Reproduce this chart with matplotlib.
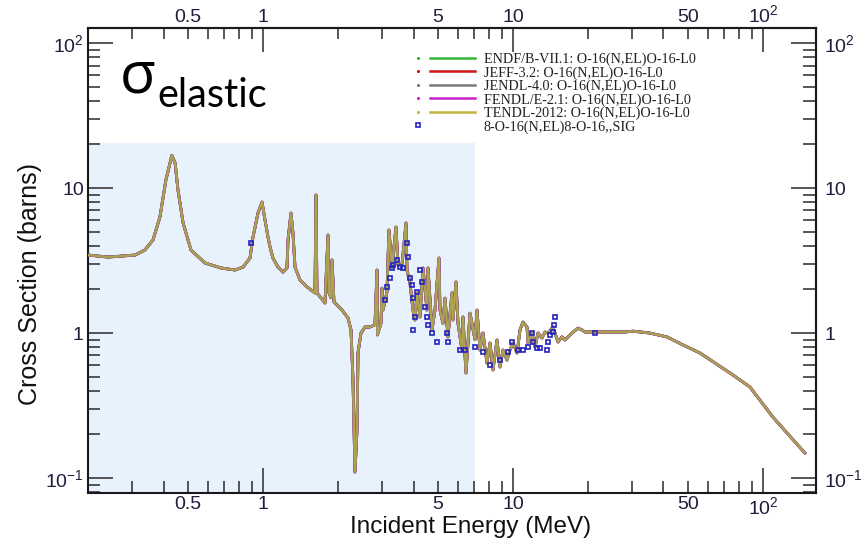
import matplotlib
matplotlib.use("Agg")
import matplotlib.pyplot as plt
from matplotlib.lines import Line2D
from matplotlib.legend_handler import HandlerBase
from matplotlib.ticker import FixedLocator, FixedFormatter, LogLocator, NullFormatter

plt.rcParams["font.family"] = ["Liberation Sans", "DejaVu Sans"]
plt.rcParams["mathtext.fontset"] = "custom"
plt.rcParams["mathtext.rm"] = "Liberation Sans"

# O-16 elastic cross section (MeV, barns), evaluated libraries
energy_mev = [
    0.200, 0.240, 0.308, 0.337, 0.363, 0.387, 0.409, 0.432, 0.445, 0.457,
    0.479, 0.515, 0.586, 0.679, 0.773, 0.832, 0.887, 0.912, 0.955, 0.991,
    1.019, 1.047, 1.067, 1.096, 1.148, 1.202, 1.247, 1.259, 1.294, 1.318,
    1.343, 1.406, 1.500, 1.614, 1.629, 1.644, 1.770, 1.820, 1.837, 1.870,
    1.888, 1.923, 2.070, 2.188, 2.249, 2.291, 2.333, 2.377, 2.399, 2.466,
    2.512, 2.559, 2.679, 2.805, 2.858, 2.870, 2.965, 2.992, 3.020, 3.133,
    3.190, 3.281, 3.404, 3.467, 3.597, 3.733, 3.767, 3.873, 3.981, 4.055,
    4.130, 4.246, 4.365, 4.529, 4.571, 4.742, 4.875, 5.058, 5.105, 5.248,
    5.346, 5.495, 5.700, 5.754, 5.916, 6.026, 6.252, 6.310, 6.486, 6.730,
    7.047, 7.178, 7.380, 7.586, 7.870, 8.091, 8.318, 8.630, 8.872, 9.120,
    9.460, 9.727, 10.00, 10.38, 10.67, 10.96, 11.38, 11.48, 11.91, 12.25,
    12.59, 13.06, 13.43, 13.80, 14.45, 15.14, 15.70, 16.14, 17.22, 18.20,
    18.88, 19.41, 20.70, 21.88, 23.99, 28.05, 30.20, 35.20, 41.30, 47.90,
    55.98, 75.90, 88.70, 109.6, 147.0,
]
sigma_barns = [
    3.45, 3.34, 3.45, 3.74, 4.38, 6.31, 11.4, 16.8, 14.9, 9.69,
    5.74, 3.74, 3.04, 2.81, 2.72, 2.85, 3.29, 4.59, 6.72, 8.00,
    6.00, 4.59, 3.92, 3.29, 2.85, 2.63, 2.81, 4.38, 6.72, 4.89,
    2.85, 2.32, 2.08, 1.89, 8.95, 1.89, 1.61, 4.74, 1.89, 1.75,
    3.19, 1.64, 1.44, 1.27, 1.05, 0.474, 0.110, 0.214, 0.728, 1.00,
    1.05, 1.10, 1.10, 1.14, 2.72, 0.97, 1.17, 2.04, 1.44, 1.92,
    5.13, 2.85, 5.38, 2.94, 2.94, 5.74, 2.72, 2.21, 1.44, 1.23,
    1.89, 1.29, 2.81, 1.44, 2.81, 1.05, 1.44, 3.29, 1.44, 1.17,
    1.74, 0.94, 1.89, 1.23, 2.25, 1.17, 0.763, 1.29, 0.53, 1.37,
    0.90, 1.44, 0.763, 1.00, 0.621, 0.853, 0.556, 0.895, 0.583, 0.763,
    0.651, 0.763, 0.853, 0.728, 1.05, 1.19, 1.10, 0.853, 1.00, 0.80,
    1.00, 0.924, 1.016, 1.00, 1.10, 0.867, 0.94, 0.895, 1.00, 1.08,
    1.05, 1.016, 1.016, 1.016, 1.016, 1.016, 1.03, 1.00, 0.94, 0.827,
    0.728, 0.513, 0.424, 0.263, 0.149,
]

# EXFOR measurements
exp_energy = [
    0.895, 3.076, 3.133, 3.221, 3.281, 3.311, 3.436, 3.532, 3.631, 3.767,
    3.802, 3.873, 3.945, 3.981, 3.981, 4.055, 4.130, 4.246, 4.325, 4.446,
    4.529, 4.571, 4.742, 4.966, 5.445, 5.495, 6.138, 6.427, 7.047, 7.586,
    8.091, 8.872, 9.550, 9.910, 10.47, 10.96, 11.48, 11.91, 12.02, 12.47,
    12.82, 13.68, 13.80, 14.06, 14.45, 14.59, 14.72, 21.28,
]
exp_sigma = [
    4.17, 1.69, 2.08, 2.39, 2.81, 2.94, 3.19, 2.85, 2.81, 4.17,
    3.34, 2.39, 2.14, 1.74, 1.05, 1.29, 1.92, 2.72, 2.25, 1.51,
    1.29, 1.14, 1.00, 0.867, 1.00, 0.867, 0.763, 0.763, 0.80, 0.74,
    0.601, 0.651, 0.74, 0.867, 0.763, 0.763, 0.80, 1.00, 0.867, 0.788,
    0.788, 0.763, 0.867, 0.969, 1.016, 1.135, 1.29, 1.00,
]

# (label, colour, draw order, line width, alpha)
libraries = [
    ("ENDF/B-VII.1: O-16(N,EL)O-16-L0", "#33b533", 2, 2.0, 1.0),
    ("JEFF-3.2: O-16(N,EL)O-16-L0", "#cc1414", 3, 2.0, 1.0),
    ("JENDL-4.0: O-16(N,EL)O-16-L0", "#7a7a7a", 5, 2.0, 1.0),
    ("FENDL/E-2.1: O-16(N,EL)O-16-L0", "#cc22cc", 4, 2.0, 1.0),
    ("TENDL-2012: O-16(N,EL)O-16-L0", "#c4b43c", 6, 1.5, 0.7),
]
exp_label = "8-O-16(N,EL)8-O-16,,SIG"

x_range = (0.1995, 163.0)
y_range = (0.0788, 127.0)
shade_emax = 7.05
shade_ymax = 20.4

x_major = [1, 10, 100]
x_major_labels = ["1", "10", r"$\mathregular{10^{2}}$"]
x_labelled_minor = [0.5, 5, 50]
y_major = [0.1, 1, 10, 100]
y_major_labels = [r"$\mathregular{10^{-1}}$", "1", "10", r"$\mathregular{10^{2}}$"]

tick_color = "#2a2a2a"
label_color = "#1e1e3c"


class DotLineHandler(HandlerBase):
    """Legend key: a small dot at the left, then the line segment."""

    def create_artists(self, legend, orig_handle, xdescent, ydescent,
                       width, height, fontsize, trans):
        y = height / 2.0 - ydescent
        x0 = -xdescent
        arts = []
        if orig_handle.get_linestyle() in ("None", "none", ""):
            arts.append(Line2D([x0 + 0.02 * width], [y], linestyle="none",
                               marker=orig_handle.get_marker(),
                               markersize=orig_handle.get_markersize(),
                               markeredgewidth=orig_handle.get_markeredgewidth(),
                               markeredgecolor=orig_handle.get_markeredgecolor(),
                               markerfacecolor="none"))
        else:
            c = orig_handle.get_color()
            arts.append(Line2D([x0 + 0.02 * width], [y], linestyle="none",
                               marker=".", markersize=2.5, color=c))
            arts.append(Line2D([x0 + 0.22 * width, x0 + width], [y, y],
                               color=c, lw=1.8))
        for a in arts:
            a.set_transform(trans)
        return arts


fig = plt.figure(figsize=(8.64, 5.4), dpi=100)
ax = fig.add_axes([88 / 864, 47 / 540, 728 / 864, 465 / 540])
ax.set_xscale("log")
ax.set_yscale("log")
ax.set_xlim(*x_range)
ax.set_ylim(*y_range)

# highlighted low-energy region
ax.fill_between([x_range[0], shade_emax], y_range[0], shade_ymax,
                color="#e8f2fc", lw=0, zorder=0)

handles = []
for name, col, z, lw, alpha in libraries:
    (ln,) = ax.plot(energy_mev, sigma_barns, color=col, lw=lw, alpha=alpha,
                    zorder=z)
    handles.append(ln)

(pts,) = ax.plot(exp_energy, exp_sigma, linestyle="none", marker="s",
                 markersize=3.4, markeredgewidth=1.2, markeredgecolor="#2424c0",
                 markerfacecolor="none", zorder=10)
handles.append(pts)

labels = [lib[0] for lib in libraries] + [exp_label]
leg = ax.legend(handles, labels, handler_map={Line2D: DotLineHandler()},
                loc="upper left", bbox_to_anchor=(0.452, 0.947), frameon=False,
                prop=dict(family="Liberation Serif", size=10.2),
                handlelength=4.1, handletextpad=0.62, labelspacing=0.0,
                borderpad=0, borderaxespad=0)
for t in leg.get_texts():
    t.set_color("#222222")

minor_x = LogLocator(base=10, subs=[2, 3, 4, 5, 6, 7, 8, 9], numticks=20)
minor_y = LogLocator(base=10, subs=[2, 3, 4, 5, 6, 7, 8, 9], numticks=20)


class MinorXLabels(NullFormatter):
    """Labels only the 0.5, 5 and 50 MeV minor ticks."""

    def __call__(self, x, pos=None):
        for v in x_labelled_minor:
            if abs(x - v) / v < 1e-6:
                return f"{v:g}"
        return ""


def style_x(axis_obj):
    axis_obj.set_major_locator(FixedLocator(x_major))
    axis_obj.set_major_formatter(FixedFormatter(x_major_labels))
    axis_obj.set_minor_locator(minor_x)
    axis_obj.set_minor_formatter(MinorXLabels())


def style_y(axis_obj):
    axis_obj.set_major_locator(FixedLocator(y_major))
    axis_obj.set_major_formatter(FixedFormatter(y_major_labels))
    axis_obj.set_minor_locator(minor_y)
    axis_obj.set_minor_formatter(NullFormatter())


style_x(ax.xaxis)
style_y(ax.yaxis)
common = dict(direction="in", color=tick_color, labelcolor=label_color,
              labelsize=14)
ax.tick_params(axis="both", which="major", length=18, width=1.1, **common)
ax.tick_params(axis="both", which="minor", length=8.5, width=1.1, **common)
ax.tick_params(axis="x", which="both", pad=2.5, top=False)
ax.tick_params(axis="y", which="both", pad=3, right=False)

secx = ax.secondary_xaxis("top")
style_x(secx.xaxis)
secx.tick_params(axis="x", which="major", length=17, width=1.1, pad=1.5, **common)
secx.tick_params(axis="x", which="minor", length=8, width=1.1, pad=1.5, **common)

secy = ax.secondary_yaxis("right")
style_y(secy.yaxis)
secy.tick_params(axis="y", which="major", length=18, width=1.1, pad=6, **common)
secy.tick_params(axis="y", which="minor", length=9.5, width=1.1, pad=6, **common)

for s in list(ax.spines.values()) + [secx.spines["top"], secy.spines["right"]]:
    s.set_linewidth(1.5)
    s.set_color("#1a1a1a")

ax.set_xlabel("Incident Energy (MeV)", fontsize=17.5, color="#111111")
ax.xaxis.set_label_coords(0.525, -0.049)
ax.set_ylabel("Cross Section (barns)", fontsize=18, color="#111111")
ax.yaxis.set_label_coords(-0.063, 0.45)

# reaction label
ax.text(0.044, 0.862, "\u03c3", transform=ax.transAxes, fontsize=42,
        family=["Open Sans", "DejaVu Sans"], va="baseline", ha="left",
        color="black")
ax.text(0.095, 0.830, "elastic", transform=ax.transAxes, fontsize=28.5,
        family=["Lato", "DejaVu Sans"], va="baseline", ha="left",
        color="black")

fig.savefig("out.png", dpi=100)
